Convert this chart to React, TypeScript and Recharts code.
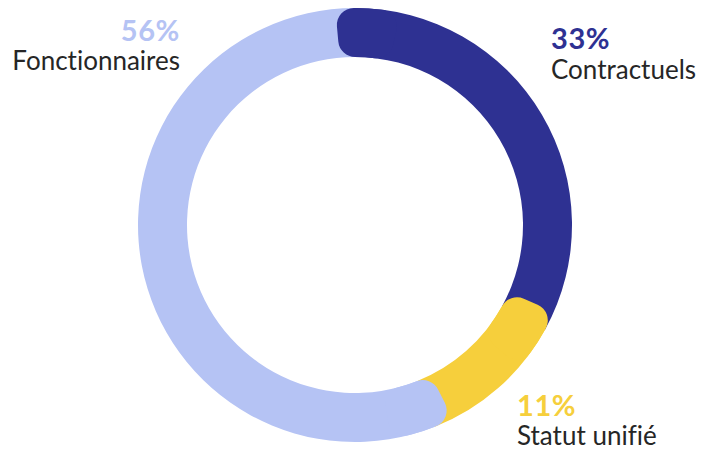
import React from 'react';
import { PieChart, Pie, Cell, Sector } from 'recharts';

const categories = ['Contractuels', 'Statut unifié', 'Fonctionnaires'];
const shares = [33, 11, 56];
const pctLabels = ['33%', '11%', '56%'];

const COLORS = ['#2E3192', '#F6CF3C', '#B5C3F4'];
const TEXT_COLOR = '#262626';
const FONT = 'Lato, "Noto Sans", sans-serif';

// label placement per category: [x, pctBaseline, nameBaseline, anchor]
const LABEL_POS: Record<string, { x: number; y1: number; y2: number; anchor: 'start' | 'end' }> = {
  Contractuels: { x: 551, y1: 49, y2: 79, anchor: 'start' },
  'Statut unifié': { x: 517, y1: 416, y2: 445, anchor: 'start' },
  Fonctionnaires: { x: 180, y1: 41, y2: 70, anchor: 'end' },
};

const data = categories.map((name, i) => ({ name, value: shares[i], pct: pctLabels[i] }));

const CAP_DEG = 5.2;

const CapShape = (props: any) => {
  const { cx, cy, innerRadius, outerRadius, startAngle, fill } = props;
  return (
    <Sector
      cx={cx}
      cy={cy}
      innerRadius={innerRadius}
      outerRadius={outerRadius}
      startAngle={startAngle + CAP_DEG}
      endAngle={startAngle - 12}
      cornerRadius={17}
      fill={fill}
      stroke="none"
    />
  );
};

const renderLabel = (props: any) => {
  const { index } = props;
  const d = data[index];
  const p = LABEL_POS[d.name];
  const st = { fontVariantLigatures: 'none' as const, fontFeatureSettings: '"liga" 0, "clig" 0' };
  return (
    <g key={`lbl-${index}`}>
      <text x={p.x} y={p.y1} textAnchor={p.anchor} fill={COLORS[index]} fontFamily={FONT} fontWeight={700} fontSize={29} letterSpacing={0.6} style={st}>
        {d.pct}
      </text>
      <text x={p.x} y={p.y2} textAnchor={p.anchor} fill={TEXT_COLOR} fontFamily={FONT} fontWeight={400} fontSize={26} style={st}>
        {d.name}
      </text>
    </g>
  );
};

export default function App() {
  return (
    <div style={{ position: 'absolute', left: 0, top: 0, width: 703, height: 452, background: '#fff' }}>
      <PieChart width={703} height={452} margin={{ top: 0, right: 0, bottom: 0, left: 0 }}>
        <Pie
          data={data}
          dataKey="value"
          nameKey="name"
          cx={355}
          cy={225}
          innerRadius={168}
          outerRadius={217}
          startAngle={90}
          endAngle={-270}
          stroke="none"
          isAnimationActive={false}
          label={false}
          labelLine={false}
        >
          {data.map((d, i) => (
            <Cell key={d.name} fill={COLORS[i]} />
          ))}
        </Pie>
        <Pie
          data={data}
          dataKey="value"
          nameKey="name"
          cx={355}
          cy={225}
          innerRadius={168}
          outerRadius={217}
          startAngle={90}
          endAngle={-270}
          stroke="none"
          isAnimationActive={false}
          shape={CapShape}
          label={renderLabel}
          labelLine={false}
        >
          {data.map((d, i) => (
            <Cell key={d.name} fill={COLORS[i]} />
          ))}
        </Pie>
      </PieChart>
    </div>
  );
}
